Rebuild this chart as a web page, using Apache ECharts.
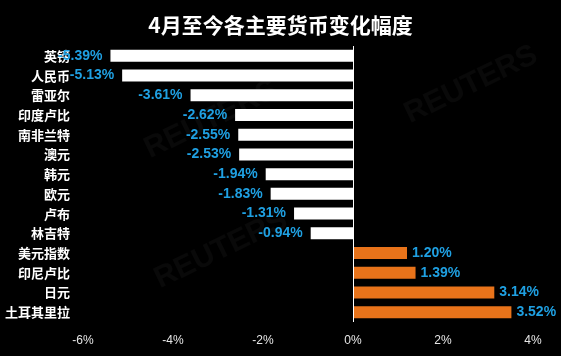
<!DOCTYPE html>
<html><head><meta charset="utf-8">
<script src="https://cdn.jsdelivr.net/npm/echarts@6/dist/echarts.min.js"></script>
<style>html,body{margin:0;padding:0;background:#000;}#c{width:561px;height:356px;}</style>
</head><body><div id="c"></div>
<script>
const categories = ['英镑','人民币','雷亚尔','印度卢比','南非兰特','澳元','韩元','欧元','卢布','林吉特','美元指数','印尼卢比','日元','土耳其里拉'];
const values = [-5.39,-5.13,-3.61,-2.62,-2.55,-2.53,-1.94,-1.83,-1.31,-0.94,1.20,1.39,3.14,3.52];
const xTicks = [-6,-4,-2,0,2,4];

const chart = echarts.init(document.getElementById('c'));
chart.setOption({
  backgroundColor:'#000',
  animation:false,
  title:{text:'4月至今各主要货币变化幅度',left:'center',top:10,
    textStyle:{color:'#fff',fontSize:21,fontWeight:'bold',fontFamily:'Noto Sans CJK SC'}},
  graphic:[
    {type:'text',left:140,top:75,rotation:0.45,style:{text:'REUTERS',fill:'rgba(255,255,255,0.035)',font:'bold 30px Liberation Sans'}},
    {type:'text',left:400,top:40,rotation:0.45,style:{text:'REUTERS',fill:'rgba(255,255,255,0.035)',font:'bold 30px Liberation Sans'}},
    {type:'text',left:150,top:205,rotation:0.45,style:{text:'REUTERS',fill:'rgba(255,255,255,0.035)',font:'bold 30px Liberation Sans'}}
  ],
  grid:{left:83,right:28,top:46,bottom:34,containLabel:false},
  xAxis:{type:'value',min:xTicks[0],max:xTicks[xTicks.length-1],interval:2,
    axisLine:{show:false},axisTick:{show:false},splitLine:{show:false},
    axisLabel:{color:'#e6e6e6',fontSize:12,margin:13,fontFamily:'Liberation Sans',formatter:'{value}%'}},
  yAxis:{type:'category',data:categories,inverse:true,
    axisLine:{show:false,onZero:false},axisTick:{show:false},
    axisLabel:{color:'#fff',fontSize:13,fontWeight:'bold',margin:13,fontFamily:'Noto Sans CJK SC'}},
  series:[{
    type:'bar',barWidth:12,
    data:values.map(v=>({value:v,
      itemStyle:{color:v<0?'#ffffff':'#e8731a'},
      label:{show:true,position:v<0?'left':'right',distance:v<0?8:5,
        formatter:(v<0?'-':'')+Math.abs(v).toFixed(2)+'%',
        color:'#1fa0e2',fontSize:14,fontWeight:'bold',fontFamily:'Liberation Sans'}})),
    markLine:{silent:true,symbol:'none',label:{show:false},
      lineStyle:{color:'#fff',width:1,type:'solid'},
      data:[{xAxis:0}]}
  }]
});
</script></body></html>
